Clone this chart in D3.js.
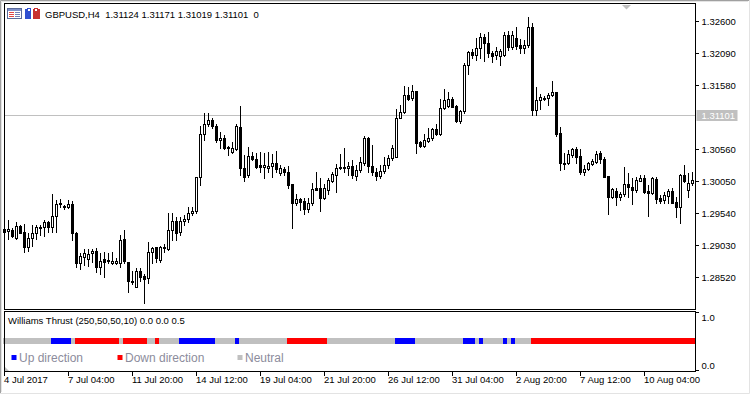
<!DOCTYPE html>
<html>
<head>
<meta charset="utf-8">
<script src="https://cdn.jsdelivr.net/npm/d3@7"></script>
<style>
  body { margin: 0; background: #ffffff; }
  svg text { font-family: "Liberation Sans", Arial, sans-serif; }
</style>
</head>
<body>
<div id="chart"></div>
<script>
// GBPUSD H4 bars, oldest first
var opens = [
  1.29293, 1.29261, 1.29277, 1.29150, 1.29341, 1.29246, 1.29006, 1.29150, 1.29230, 1.29325,
  1.29325, 1.29405, 1.29325, 1.29501, 1.29708, 1.29660, 1.29644, 1.29692, 1.29230, 1.28751,
  1.28847, 1.28815, 1.28911, 1.28943, 1.28688, 1.28815, 1.28799, 1.28751, 1.28751, 1.28751,
  1.29134, 1.28767, 1.28465, 1.28369, 1.28624, 1.28544, 1.28512, 1.28927, 1.29006, 1.28799,
  1.29006, 1.28975, 1.29277, 1.29421, 1.29246, 1.29421, 1.29453, 1.29548, 1.29580, 1.30122,
  1.30807, 1.30967, 1.31031, 1.30935, 1.30712, 1.30744, 1.30600, 1.30521, 1.30568, 1.30919,
  1.30266, 1.30154, 1.30457, 1.30409, 1.30313, 1.30281, 1.30266, 1.30297, 1.30345, 1.30186,
  1.30250, 1.30202, 1.30011, 1.29708, 1.29771, 1.29740, 1.29612, 1.29708, 1.29947, 1.29947,
  1.29787, 1.29915, 1.30058, 1.30154, 1.30266, 1.30281, 1.30266, 1.30297, 1.30138, 1.30234,
  1.30345, 1.30744, 1.30297, 1.30202, 1.30138, 1.30218, 1.30313, 1.30425, 1.30441, 1.31062,
  1.31158, 1.31429, 1.31381, 1.31493, 1.30680, 1.30616, 1.30696, 1.30744, 1.30887, 1.30807,
  1.31222, 1.31254, 1.31365, 1.31254, 1.31015, 1.31174, 1.31907, 1.32114, 1.32066, 1.32178,
  1.32353, 1.32258, 1.32098, 1.32066, 1.32051, 1.32066, 1.32385, 1.32194, 1.32337, 1.32226,
  1.32178, 1.32226, 1.32513, 1.31190, 1.31349, 1.31381, 1.31381, 1.31429, 1.31477, 1.30823,
  1.30345, 1.30345, 1.30473, 1.30568, 1.30457, 1.30202, 1.30250, 1.30329, 1.30361, 1.30505,
  1.30409, 1.30138, 1.29803, 1.29899, 1.29803, 1.29851, 1.30011, 1.29963, 1.29915, 1.30058,
  1.30106, 1.29899, 1.29867, 1.30090, 1.29787, 1.29756, 1.29819, 1.29899, 1.29724, 1.29644,
  1.30154, 1.29915, 1.30026
];
var highs = [
  1.29325, 1.29437, 1.29309, 1.29405, 1.29357, 1.29373, 1.29230, 1.29357, 1.29357, 1.29357,
  1.29437, 1.29421, 1.29851, 1.29756, 1.29771, 1.29676, 1.29756, 1.29740, 1.29246, 1.28911,
  1.28975, 1.28975, 1.28975, 1.28991, 1.28911, 1.28927, 1.28911, 1.28927, 1.28831, 1.29198,
  1.29277, 1.28767, 1.28624, 1.28672, 1.28672, 1.28576, 1.29086, 1.29006, 1.29006, 1.29022,
  1.29054, 1.29548, 1.29548, 1.29485, 1.29485, 1.29516, 1.29644, 1.29644, 1.30122, 1.30935,
  1.31142, 1.31142, 1.31062, 1.30967, 1.30839, 1.30791, 1.30616, 1.30680, 1.30967, 1.31254,
  1.30473, 1.30600, 1.30521, 1.30505, 1.30521, 1.30505, 1.30521, 1.30489, 1.30536, 1.30313,
  1.30281, 1.30297, 1.30011, 1.29851, 1.29787, 1.29787, 1.29787, 1.30026, 1.30202, 1.30106,
  1.30011, 1.30106, 1.30202, 1.30329, 1.30489, 1.30584, 1.30361, 1.30393, 1.30313, 1.30441,
  1.30776, 1.30760, 1.30632, 1.30266, 1.30313, 1.30441, 1.30473, 1.30632, 1.31206, 1.31270,
  1.31572, 1.31556, 1.31588, 1.31493, 1.30696, 1.30807, 1.30903, 1.30903, 1.30967, 1.31365,
  1.31525, 1.31477, 1.31397, 1.31270, 1.31190, 1.31939, 1.32130, 1.32162, 1.32337, 1.32417,
  1.32401, 1.32433, 1.32130, 1.32194, 1.32162, 1.32433, 1.32449, 1.32449, 1.32513, 1.32321,
  1.32306, 1.32672, 1.32576, 1.31556, 1.31445, 1.31413, 1.31461, 1.31652, 1.31477, 1.30919,
  1.30505, 1.30552, 1.30584, 1.30600, 1.30568, 1.30313, 1.30361, 1.30409, 1.30536, 1.30536,
  1.30441, 1.30138, 1.29947, 1.29947, 1.29883, 1.30281, 1.30186, 1.30106, 1.30122, 1.30154,
  1.30154, 1.29995, 1.30122, 1.30122, 1.29835, 1.29883, 1.29931, 1.29947, 1.29803, 1.30170,
  1.30313, 1.30186, 1.30202
];
var lows = [
  1.29198, 1.29134, 1.29166, 1.29134, 1.29230, 1.28927, 1.28943, 1.29022, 1.29134, 1.29198,
  1.29182, 1.29246, 1.29246, 1.29246, 1.29644, 1.29612, 1.29628, 1.29118, 1.28688, 1.28656,
  1.28720, 1.28704, 1.28767, 1.28608, 1.28576, 1.28528, 1.28751, 1.28736, 1.28736, 1.28688,
  1.28751, 1.28289, 1.28417, 1.28369, 1.28465, 1.28114, 1.28433, 1.28751, 1.28767, 1.28767,
  1.28927, 1.28959, 1.29118, 1.29118, 1.29198, 1.29357, 1.29405, 1.29516, 1.29548, 1.29995,
  1.30712, 1.30935, 1.30903, 1.30680, 1.30584, 1.30568, 1.30473, 1.30505, 1.30552, 1.30154,
  1.30058, 1.30122, 1.30393, 1.30266, 1.30202, 1.30106, 1.30202, 1.30122, 1.30202, 1.30154,
  1.30154, 1.29947, 1.29309, 1.29676, 1.29596, 1.29532, 1.29564, 1.29676, 1.29915, 1.29580,
  1.29771, 1.29851, 1.30042, 1.29883, 1.30250, 1.30202, 1.30154, 1.30106, 1.30074, 1.30202,
  1.30313, 1.30202, 1.30154, 1.30074, 1.30106, 1.30186, 1.30266, 1.30393, 1.30441, 1.31062,
  1.31142, 1.31349, 1.31349, 1.30505, 1.30600, 1.30600, 1.30680, 1.30712, 1.30791, 1.30791,
  1.31206, 1.31238, 1.31238, 1.30999, 1.30983, 1.31142, 1.31764, 1.32019, 1.31987, 1.32019,
  1.31971, 1.32035, 1.31955, 1.32003, 1.31907, 1.32051, 1.32146, 1.32162, 1.32162, 1.32098,
  1.32098, 1.32194, 1.31110, 1.31110, 1.31206, 1.31349, 1.31270, 1.31413, 1.30776, 1.30234,
  1.30250, 1.30329, 1.30441, 1.30345, 1.30170, 1.30154, 1.30234, 1.30313, 1.30345, 1.30345,
  1.30122, 1.29532, 1.29787, 1.29676, 1.29756, 1.29819, 1.29803, 1.29692, 1.29883, 1.30058,
  1.29867, 1.29501, 1.29851, 1.29708, 1.29708, 1.29708, 1.29708, 1.29708, 1.29485, 1.29389,
  1.30042, 1.29803, 1.29995
];
var closes = [
  1.29246, 1.29293, 1.29182, 1.29341, 1.29230, 1.29006, 1.29150, 1.29230, 1.29325, 1.29309,
  1.29405, 1.29325, 1.29501, 1.29692, 1.29692, 1.29644, 1.29692, 1.29230, 1.28751, 1.28863,
  1.28911, 1.28895, 1.28943, 1.28688, 1.28783, 1.28767, 1.28783, 1.28783, 1.28783, 1.29118,
  1.28783, 1.28465, 1.28465, 1.28624, 1.28528, 1.28496, 1.28927, 1.28991, 1.28831, 1.29006,
  1.29006, 1.29277, 1.29421, 1.29230, 1.29421, 1.29453, 1.29548, 1.29580, 1.30122, 1.30807,
  1.30967, 1.31031, 1.30935, 1.30712, 1.30744, 1.30584, 1.30584, 1.30584, 1.30935, 1.30266,
  1.30122, 1.30457, 1.30409, 1.30281, 1.30281, 1.30313, 1.30297, 1.30345, 1.30250, 1.30266,
  1.30202, 1.29995, 1.29708, 1.29771, 1.29724, 1.29612, 1.29708, 1.29931, 1.29915, 1.29787,
  1.29947, 1.30074, 1.30170, 1.30266, 1.30281, 1.30266, 1.30297, 1.30154, 1.30234, 1.30361,
  1.30744, 1.30297, 1.30202, 1.30138, 1.30218, 1.30313, 1.30425, 1.30584, 1.31062, 1.31158,
  1.31429, 1.31365, 1.31493, 1.30664, 1.30616, 1.30712, 1.30744, 1.30887, 1.30807, 1.31222,
  1.31349, 1.31365, 1.31238, 1.31015, 1.31174, 1.31907, 1.32114, 1.32066, 1.32178, 1.32353,
  1.32258, 1.32098, 1.32051, 1.32130, 1.32130, 1.32385, 1.32194, 1.32385, 1.32210, 1.32178,
  1.32226, 1.32513, 1.31190, 1.31349, 1.31397, 1.31381, 1.31429, 1.31477, 1.30807, 1.30345,
  1.30345, 1.30489, 1.30568, 1.30441, 1.30202, 1.30250, 1.30345, 1.30377, 1.30489, 1.30409,
  1.30122, 1.29803, 1.29931, 1.29803, 1.29851, 1.30011, 1.29963, 1.29915, 1.30074, 1.30106,
  1.29883, 1.29867, 1.30106, 1.29771, 1.29740, 1.29835, 1.29899, 1.29708, 1.29644, 1.30154,
  1.30058, 1.30026, 1.30074
];

// Williams Thrust state per bar: 1 up, -1 down, 0 neutral (drawn at level 0.5)
var thrustDir = [
  0, 0, 0, 0, 0, 0, 0, 0, 0, 0,
  0, 0, 1, 1, 1, 1, 1, 0, -1, -1,
  -1, -1, -1, -1, -1, -1, -1, -1, -1, 0,
  -1, -1, -1, -1, -1, -1, 0, 0, -1, 0,
  0, 0, 0, 0, 1, 1, 1, 1, 1, 1,
  1, 1, 1, 0, 0, 0, 0, 0, 1, 0,
  0, 0, 0, 0, 0, 0, 0, 0, 0, 0,
  0, -1, -1, -1, -1, -1, -1, -1, -1, -1,
  -1, 0, 0, 0, 0, 0, 0, 0, 0, 0,
  0, 0, 0, 0, 0, 0, 0, 0, 1, 1,
  1, 1, 1, 0, 0, 0, 0, 0, 0, 0,
  0, 0, 0, 0, 0, 1, 1, 1, 0, 1,
  0, 0, 0, 0, 0, 1, 0, 1, 0, 0,
  0, 0, -1, -1, -1, -1, -1, -1, -1, -1,
  -1, -1, -1, -1, -1, -1, -1, -1, -1, -1,
  -1, -1, -1, -1, -1, -1, -1, -1, -1, -1,
  -1, -1, -1, -1, -1, -1, -1, -1, -1, -1,
  -1, -1, -1
];
var thrustLevel = 0.5;

// Axis labels (the 1.31070 level is hidden behind the bid label)
var priceTicks = [1.32600, 1.32090, 1.31580, 1.30560, 1.30050, 1.29540, 1.29030, 1.28520];
var timeTickBars = [0, 16, 32, 48, 64, 80, 96, 112, 128, 144, 160];
var timeLabels = ["4 Jul 2017", "7 Jul 04:00", "11 Jul 20:00", "14 Jul 12:00", "19 Jul 04:00",
  "21 Jul 20:00", "26 Jul 12:00", "31 Jul 04:00", "2 Aug 20:00", "7 Aug 12:00", "10 Aug 04:00"];
var subTicks = [1.0, 0.0];
var bidPrice = 1.31101;
var headerText = "GBPUSD,H4  1.31124 1.31171 1.31019 1.31101  0";
var subTitle = "Williams Thrust (250,50,50,10) 0.0 0.0 0.5";
var legendNames = ["Up direction", "Down direction", "Neutral"];
var dirColors = { "1": "#0000ff", "-1": "#ff0000", "0": "#c0c0c0" };

var svgWidth = 750;
var svgHeight = 394;

// main window and indicator window edges
var left = 4.5, right = 695.5;
var mainTop = 3.5, mainBottom = 309.5;
var subTop = 311.5, subBottom = 371.5;

var svg = d3.select("#chart")
  .append("svg")
  .attr("width", svgWidth)
  .attr("height", svgHeight)
  .style("display", "block");

// outer window frame
svg.append("rect").attr("x", 0).attr("y", 0).attr("width", svgWidth).attr("height", svgHeight).attr("fill", "#ffffff");
svg.append("path").attr("d", "M0.5,393 V0.5 H749").attr("fill", "none").attr("stroke", "#a0a0a0").attr("stroke-width", 1);
svg.append("path").attr("d", "M1.5,392 V1.5 H748").attr("fill", "none").attr("stroke", "#e3e3e3").attr("stroke-width", 1);
svg.append("path").attr("d", "M0,393.5 H749.5 V0").attr("fill", "none").attr("stroke", "#e3e3e3").attr("stroke-width", 1);

// scales
var xScale = d3.scaleLinear()
  .domain([0, opens.length - 1])
  .range([4.5, 4.5 + 4 * (opens.length - 1)]);

var yScale = d3.scaleLinear()
  .domain([1.28520, 1.32600])
  .range([277.5, 21.5]);

var ySub = d3.scaleLinear()
  .domain([0, 1])
  .range([370.5, 312.5]);

var chart = svg.append("g").attr("shape-rendering", "crispEdges");

// bid line
chart.append("line")
  .attr("x1", left).attr("x2", right)
  .attr("y1", Math.round(yScale(bidPrice)) - 0.5).attr("y2", Math.round(yScale(bidPrice)) - 0.5)
  .attr("stroke", "#c0c0c0")
  .attr("stroke-width", 1.6);

// candles
var bars = d3.range(opens.length).map(function (i) {
  return { i: i, o: opens[i], h: highs[i], l: lows[i], c: closes[i] };
});

var candle = chart.append("g").selectAll("g")
  .data(bars)
  .enter()
  .append("g");

candle.append("line")
  .attr("x1", d => xScale(d.i))
  .attr("x2", d => xScale(d.i))
  .attr("y1", d => Math.round(yScale(d.h)))
  .attr("y2", d => Math.round(yScale(d.l)) + 1)
  .attr("stroke", "#000")
  .attr("stroke-width", 1);

candle.each(function (d) {
  var g = d3.select(this);
  var top = Math.round(yScale(Math.max(d.o, d.c)));
  var bot = Math.round(yScale(Math.min(d.o, d.c)));
  var cx = xScale(d.i);
  if (d.c < d.o) {
    g.append("rect")
      .attr("x", cx - 1.5)
      .attr("y", top)
      .attr("width", 3)
      .attr("height", Math.max(bot - top + 1, 1))
      .attr("fill", "#000");
  } else {
    g.append("rect")
      .attr("x", cx - 1)
      .attr("y", top + 0.5)
      .attr("width", 2)
      .attr("height", Math.max(bot - top, 1))
      .attr("fill", "#fff")
      .attr("stroke", "#000")
      .attr("stroke-width", 1);
  }
});

// Williams Thrust bars
chart.append("g").selectAll("rect")
  .data(thrustDir)
  .enter()
  .append("rect")
  .attr("x", (d, i) => xScale(i) - 2)
  .attr("y", ySub(thrustLevel) - 3.5)
  .attr("width", 4)
  .attr("height", 6)
  .attr("fill", d => dirColors[d]);

// panel borders
svg.append("rect")
  .attr("x", left).attr("y", mainTop)
  .attr("width", right - left).attr("height", mainBottom - mainTop)
  .attr("fill", "none").attr("stroke", "#000").attr("shape-rendering", "crispEdges");
svg.append("rect")
  .attr("x", left).attr("y", subTop)
  .attr("width", right - left).attr("height", subBottom - subTop)
  .attr("fill", "none").attr("stroke", "#000").attr("shape-rendering", "crispEdges");

// price axis
var priceAxis = d3.axisRight(yScale)
  .tickValues(priceTicks)
  .tickSize(3)
  .tickPadding(3)
  .offset(0)
  .tickFormat(d3.format(".5f"));

var pa = svg.append("g")
  .attr("transform", `translate(${right}, 0)`)
  .attr("shape-rendering", "crispEdges")
  .call(priceAxis);
pa.select(".domain").remove();
pa.selectAll("text").attr("font-size", "9.5px").attr("fill", "#000").attr("font-family", null);

// bid price label
var bidY = Math.round(yScale(bidPrice)) - 0.5;
svg.append("rect")
  .attr("x", right + 1).attr("y", bidY - 5.5)
  .attr("width", 41).attr("height", 11)
  .attr("fill", "#c0c0c0");
svg.append("text")
  .attr("x", right + 6).attr("y", bidY)
  .attr("dy", "0.34em")
  .attr("font-size", "9.5px")
  .attr("fill", "#ffffff")
  .text(d3.format(".5f")(bidPrice));

// indicator axis
var subAxis = d3.axisRight(ySub)
  .tickValues(subTicks)
  .tickSize(3)
  .tickPadding(3)
  .offset(0)
  .tickFormat(d3.format(".1f"));
var sa = svg.append("g")
  .attr("transform", `translate(${right}, 0)`)
  .attr("shape-rendering", "crispEdges")
  .call(subAxis);
sa.select(".domain").remove();
sa.selectAll("text")
  .attr("font-size", "9.5px").attr("fill", "#000").attr("font-family", null)
  .attr("dy", d => d === 1 ? "0.85em" : "-0.15em");

// time axis
var timeAxis = d3.axisBottom(xScale)
  .tickValues(timeTickBars)
  .tickSize(4)
  .offset(0)
  .tickFormat((d, i) => timeLabels[i]);
var ta = svg.append("g")
  .attr("transform", `translate(0, ${subBottom})`)
  .attr("shape-rendering", "crispEdges")
  .call(timeAxis);
ta.select(".domain").remove();
ta.selectAll("text")
  .attr("font-size", "9.5px").attr("fill", "#000").attr("font-family", null)
  .attr("text-anchor", "start")
  .attr("x", -0.5)
  .attr("y", 11.5)
  .attr("dy", 0);

// header
svg.append("text")
  .attr("x", 45).attr("y", 18)
  .attr("font-size", "9.5px")
  .attr("fill", "#000")
  .attr("xml:space", "preserve")
  .style("white-space", "pre")
  .text(headerText);

// header icons
var icons = svg.append("g").attr("shape-rendering", "crispEdges");
icons.append("rect").attr("x", 7.5).attr("y", 8.5).attr("width", 14).attr("height", 10).attr("fill", "#fff").attr("stroke", "#5a6a9a");
icons.append("rect").attr("x", 8).attr("y", 9).attr("width", 13).attr("height", 2).attr("fill", "#7f90c8");
[12, 14, 16].forEach(function (yy) {
  icons.append("rect").attr("x", 9).attr("y", yy).attr("width", 5).attr("height", 1).attr("fill", "#e04848");
  icons.append("rect").attr("x", 15).attr("y", yy).attr("width", 5).attr("height", 1).attr("fill", "#6f7fb8");
});
icons.append("rect").attr("x", 25).attr("y", 9).attr("width", 6).attr("height", 10).attr("fill", "#2f4fd0");
icons.append("rect").attr("x", 27).attr("y", 8).attr("width", 3).attr("height", 3).attr("fill", "#ffffff").attr("stroke", "#2f4fd0");
icons.append("rect").attr("x", 33).attr("y", 9).attr("width", 7).attr("height", 10).attr("fill", "#c83030");
icons.append("rect").attr("x", 34).attr("y", 8).attr("width", 3).attr("height", 3).attr("fill", "#ffffff").attr("stroke", "#c83030");

// chart shift marker
svg.append("path").attr("d", "M622,5 H631 L626.5,9.5 Z").attr("fill", "#c0c0c0");
// sub window corner marker
svg.append("path").attr("d", "M5,367 L5,371 L9,371 Z").attr("fill", "#c0c0c0");

// indicator title
svg.append("text")
  .attr("x", 8).attr("y", 324)
  .attr("font-size", "9.5px")
  .attr("fill", "#000")
  .text(subTitle);

// legend
var legendX = [11, 117, 237];
var legendKeys = [1, -1, 0];
var legend = svg.append("g").selectAll("g")
  .data(legendNames)
  .enter()
  .append("g")
  .attr("transform", (d, i) => `translate(${legendX[i]}, 355)`);
legend.append("rect")
  .attr("x", 0.5).attr("y", 0)
  .attr("width", 5).attr("height", 5)
  .attr("fill", (d, i) => dirColors[legendKeys[i]]);
legend.append("text")
  .attr("x", 8).attr("y", 6.5)
  .attr("font-size", "12px")
  .attr("fill", "#8c8c9c")
  .text(d => d);
</script>
</body>
</html>
